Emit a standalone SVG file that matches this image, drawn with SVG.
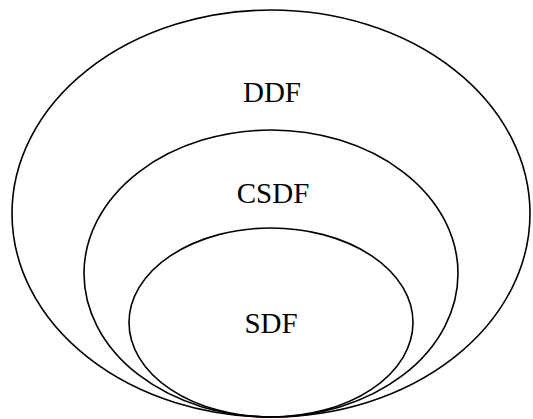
<svg xmlns="http://www.w3.org/2000/svg" width="533" height="419" viewBox="0 0 533 419">
  <style>
    .ring { fill: none; stroke: #000; stroke-width: 1.6; }
    .label { font-family: "Liberation Serif", "DejaVu Serif", serif; font-size: 29px; fill: #000; text-anchor: middle; }
  </style>
  <rect width="533" height="419" fill="#fff"/>
  <g id="ddf">
    <ellipse class="ring" cx="271" cy="213.5" rx="259" ry="203.5"/>
    <text class="label" x="272" y="102">DDF</text>
  </g>
  <g id="csdf">
    <ellipse class="ring" cx="271" cy="273.5" rx="187" ry="143.5"/>
    <text class="label" x="273" y="203">CSDF</text>
  </g>
  <g id="sdf">
    <ellipse class="ring" cx="271" cy="322.5" rx="142" ry="94.5"/>
    <text class="label" x="271" y="333">SDF</text>
  </g>
  <g id="connectors"/>
</svg>
